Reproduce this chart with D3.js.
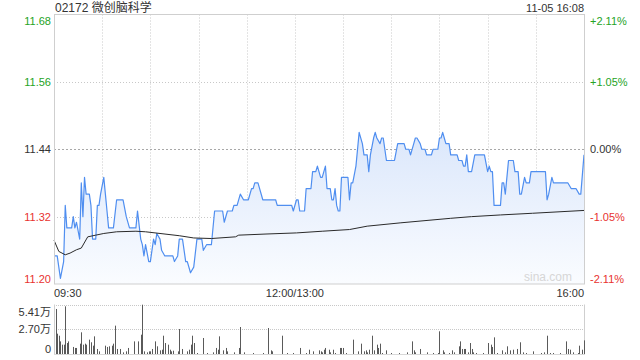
<!DOCTYPE html>
<html>
<head>
<meta charset="utf-8">
<script src="https://cdn.jsdelivr.net/npm/d3@7"></script>
<style>
  body { margin: 0; background: #fff; }
  svg { display: block; font-family: "Liberation Sans", Arial, "Noto Sans CJK SC", sans-serif; }
</style>
</head>
<body>
<div id="chart-area"></div>
<script>
// Data
let title = "02172 微创脑科学";
let stamp = "11-05 16:08";
let prevClose = 11.44;

// minutes since 09:30 (lunch removed) and price
let priceTimes = [0,2,4,6,7,8,11,12,13,14,16,17,18,19,20,22,23,24,26,27,28,29,31,32,33,34,37,39,43,45,47,51,52,54,55,56,57,59,60,62,63,64,66,67,69,72,74,75,77,78,80,82,83,85,87,89,92,93,95,98,100,105,106,108,111,112,114,116,118,121,123,124,125,127,130,138,139,148,149,151,152,153,156,157,160,161,163,164,166,167,169,170,172,173,174,175,176,177,178,179,183,184,185,186,188,189,190,192,193,195,196,197,199,200,201,203,204,205,207,212,214,218,219,221,222,224,225,226,228,229,231,232,235,236,239,240,241,242,243,244,246,247,251,252,254,255,256,257,258,260,262,268,270,271,272,273,274,278,279,280,281,283,286,287,289,290,291,293,294,296,297,306,307,308,310,311,320,322,325,327,328,330];
let prices = [11.25,11.25,11.21,11.24,11.34,11.30,11.30,11.32,11.30,11.31,11.28,11.38,11.32,11.39,11.36,11.36,11.34,11.28,11.28,11.34,11.34,11.36,11.39,11.36,11.33,11.30,11.30,11.35,11.35,11.32,11.30,11.30,11.33,11.28,11.27,11.25,11.27,11.24,11.24,11.28,11.27,11.29,11.28,11.26,11.25,11.25,11.25,11.24,11.25,11.28,11.28,11.24,11.24,11.22,11.23,11.28,11.28,11.26,11.27,11.27,11.33,11.33,11.31,11.33,11.33,11.34,11.34,11.36,11.35,11.35,11.37,11.37,11.38,11.38,11.35,11.35,11.34,11.34,11.33,11.35,11.35,11.33,11.33,11.37,11.37,11.40,11.40,11.41,11.39,11.39,11.41,11.37,11.37,11.35,11.35,11.37,11.34,11.33,11.33,11.39,11.39,11.35,11.38,11.38,11.41,11.44,11.47,11.45,11.43,11.43,11.40,11.43,11.46,11.47,11.46,11.45,11.46,11.46,11.42,11.42,11.45,11.45,11.44,11.44,11.43,11.45,11.46,11.46,11.45,11.44,11.44,11.43,11.43,11.44,11.44,11.46,11.46,11.47,11.46,11.45,11.45,11.43,11.43,11.42,11.42,11.41,11.41,11.43,11.40,11.40,11.43,11.43,11.40,11.41,11.40,11.40,11.34,11.34,11.38,11.38,11.36,11.42,11.42,11.40,11.40,11.36,11.36,11.39,11.38,11.38,11.40,11.40,11.35,11.36,11.39,11.38,11.38,11.37,11.37,11.36,11.36,11.43];

// average price line
let avgTimes = [0,3,7,10,14,17,21,26,31,39,51,57,66,78,87,98,113,115,132,151,167,184,195,216,247,260,278,298,330];
let avgPrices = [11.278,11.258,11.252,11.255,11.261,11.264,11.284,11.287,11.290,11.293,11.294,11.293,11.290,11.286,11.282,11.281,11.284,11.287,11.289,11.291,11.294,11.297,11.303,11.309,11.317,11.320,11.323,11.326,11.331];

// volume (万 shares)
let volTimes = [1,2,3,4,5,6,7,8,9,12,13,14,16,17,18,19,20,22,23,24,25,27,28,32,33,34,36,37,38,39,41,43,45,46,50,52,54,55,56,58,59,60,61,63,64,66,67,68,69,71,72,73,74,77,78,80,83,84,85,86,87,89,93,95,99,101,102,103,105,107,108,112,115,116,118,124,130,133,135,136,142,145,149,153,157,159,161,165,166,167,168,169,171,172,174,175,178,179,180,182,186,189,191,193,194,195,196,198,199,201,202,203,204,207,210,215,220,223,224,225,228,232,236,239,240,242,243,246,248,249,252,253,254,255,256,258,259,260,261,263,267,270,272,273,274,276,279,281,282,284,286,288,290,292,294,298,303,305,307,309,311,315,319,320,321,323,326,327,329,330];
let volumes = [4.92,2.22,2.00,1.38,1.02,1.02,5.21,1.20,1.38,0.77,0.66,0.66,1.13,2.37,1.02,1.13,1.02,1.57,1.28,0.91,1.93,0.55,0.29,0.91,0.77,0.84,0.91,1.13,3.10,0.55,0.55,0.18,0.29,0.66,1.38,1.38,2.11,5.39,0.29,0.18,0.29,0.29,0.55,1.38,0.84,0.40,0.47,2.00,1.20,1.02,0.47,0.29,0.36,0.29,2.73,0.55,0.29,0.47,1.02,2.00,1.20,0.11,1.75,0.11,0.18,0.66,0.47,1.93,0.40,0.66,0.29,0.18,0.66,2.95,0.18,0.11,0.11,2.84,0.40,0.29,2.00,0.11,0.11,0.66,0.11,0.47,0.29,0.40,0.29,0.18,0.47,0.66,0.47,0.18,0.47,0.11,0.66,0.66,0.66,0.11,1.57,0.29,1.13,0.29,0.40,0.18,0.47,2.00,0.40,1.02,0.66,1.13,0.11,0.40,0.11,0.11,0.18,1.38,0.40,0.18,0.55,0.18,0.11,0.11,2.48,0.40,0.18,0.11,0.40,0.18,0.84,1.38,0.55,0.55,0.55,0.18,1.20,0.55,0.18,0.11,0.11,1.20,1.02,0.77,1.82,0.11,0.40,0.18,0.84,0.40,0.47,0.55,1.28,0.18,0.11,0.29,0.11,0.18,2.00,0.11,0.11,0.11,1.38,0.55,0.47,0.18,0.11,0.91,0.47,1.49];

// axis labels
let priceTicks = [11.20, 11.32, 11.44, 11.56, 11.68];
let pctLabels = ["-2.11%", "-1.05%", "0.00%", "+1.05%", "+2.11%"];
let timeTicks = [0, 150, 330];
let timeLabels = ["09:30", "12:00/13:00", "16:00"];
let volTicks = [0, 2.70, 5.41];
let volLabels = ["0", "2.70万", "5.41万"];

const green = "#25a325", red = "#e8322f", dark = "#333";

let svg = d3.select("#chart-area")
  .append("svg")
  .attr("width", 640)
  .attr("height", 360);

// Scales
let x = d3.scaleLinear().domain([0, 330]).range([54, 584]);
let y = d3.scaleLinear().domain([11.20, 11.68]).range([284, 14.5]);
let yv = d3.scaleLinear().domain([0, 5.41]).range([354, 304.5]);

let tickColor = v => v > prevClose ? green : v < prevClose ? red : dark;
// first / last label is pushed inside the panel
let edgeShift = (i, n) => i == 0 ? -5 : i == n - 1 ? 6 : 0;

// Gradient for area
let defs = svg.append("defs");
let grad = defs.append("linearGradient")
  .attr("id", "fill")
  .attr("gradientUnits", "userSpaceOnUse")
  .attr("x1", 0).attr("x2", 0)
  .attr("y1", y(11.47)).attr("y2", y(11.20));
grad.append("stop").attr("offset", 0).attr("stop-color", "#dbe7fb");
grad.append("stop").attr("offset", 1).attr("stop-color", "#fafcff");

// Grid lines
let vGrid = d3.range(30, 330, 30);
svg.append("g")
  .selectAll("line")
  .data(vGrid)
  .join("line")
  .attr("x1", d => Math.round(x(d)) + 0.5)
  .attr("x2", d => Math.round(x(d)) + 0.5)
  .attr("y1", y(11.68))
  .attr("y2", y(11.20))
  .attr("stroke", "#c8c8c8")
  .attr("stroke-dasharray", "1,2");

svg.append("g")
  .selectAll("line")
  .data(priceTicks.filter(d => d > 11.20 && d < 11.68))
  .join("line")
  .attr("x1", x(0))
  .attr("x2", x(330))
  .attr("y1", d => Math.round(y(d)) + 0.5)
  .attr("y2", d => Math.round(y(d)) + 0.5)
  .attr("stroke", d => d == prevClose ? "#a8a8a8" : "#c8c8c8")
  .attr("stroke-dasharray", d => d == prevClose ? "2,2" : "1,2");

// Area + lines
let pts = priceTimes.map((t, i) => [t, prices[i]]);
svg.append("path")
  .datum(pts)
  .attr("fill", "url(#fill)")
  .attr("d", d3.area().x(d => x(d[0])).y0(y(11.20)).y1(d => y(d[1])));

svg.append("text")
  .attr("x", 572)
  .attr("y", 281)
  .attr("text-anchor", "end")
  .attr("fill", "#d6d6d6")
  .style("font-size", "12px")
  .text("sina.com");

svg.append("path")
  .datum(pts)
  .attr("fill", "none")
  .attr("stroke", "#4f8ef0")
  .attr("stroke-width", 1.2)
  .attr("stroke-linejoin", "round")
  .attr("d", d3.line().x(d => x(d[0])).y(d => y(d[1])));

svg.append("path")
  .datum(avgTimes.map((t, i) => [t, avgPrices[i]]))
  .attr("fill", "none")
  .attr("stroke", "#2a2a2a")
  .attr("stroke-width", 1)
  .attr("d", d3.line().x(d => x(d[0])).y(d => y(d[1])));

// Frame
svg.append("rect")
  .attr("x", 54.5).attr("y", 14.5)
  .attr("width", 530).attr("height", 269.5)
  .attr("fill", "none")
  .attr("stroke", "#cfcfcf");

// Price labels
svg.append("g")
  .selectAll("text")
  .data(priceTicks)
  .join("text")
  .attr("x", 51)
  .attr("y", (d, i) => y(d) + 4 + edgeShift(i, priceTicks.length))
  .attr("text-anchor", "end")
  .attr("fill", tickColor)
  .style("font-size", "11px")
  .text(d => d.toFixed(2));

svg.append("g")
  .selectAll("text")
  .data(priceTicks)
  .join("text")
  .attr("x", 590)
  .attr("y", (d, i) => y(d) + 4 + edgeShift(i, priceTicks.length))
  .attr("fill", tickColor)
  .style("font-size", "11px")
  .text((d, i) => pctLabels[i]);

// Time labels
svg.append("g")
  .selectAll("text")
  .data(timeTicks)
  .join("text")
  .attr("x", d => x(d))
  .attr("y", 297)
  .attr("text-anchor", (d, i) => i == 0 ? "start" : i == timeTicks.length - 1 ? "end" : "middle")
  .attr("fill", dark)
  .style("font-size", "11px")
  .text((d, i) => timeLabels[i]);

// Header
svg.append("text")
  .attr("x", 55).attr("y", 12)
  .attr("fill", dark)
  .style("font-size", "12px")
  .text(title);

svg.append("text")
  .attr("x", 584).attr("y", 12)
  .attr("text-anchor", "end")
  .attr("fill", dark)
  .style("font-size", "11px")
  .text(stamp);

// Volume panel
svg.append("g")
  .selectAll("line")
  .data(volTicks.slice(1))
  .join("line")
  .attr("x1", x(0)).attr("x2", x(330))
  .attr("y1", d => Math.round(yv(d)) + 0.5)
  .attr("y2", d => Math.round(yv(d)) + 0.5)
  .attr("stroke", "#c8c8c8")
  .attr("stroke-dasharray", "1,1");

svg.append("line")
  .attr("x1", 54.5).attr("x2", 54.5)
  .attr("y1", yv(5.41)).attr("y2", yv(0))
  .attr("stroke", "#cfcfcf");
svg.append("line")
  .attr("x1", 584.5).attr("x2", 584.5)
  .attr("y1", yv(5.41)).attr("y2", yv(0))
  .attr("stroke", "#cfcfcf");
svg.append("line")
  .attr("x1", 54).attr("x2", 585)
  .attr("y1", yv(0) + 0.5).attr("y2", yv(0) + 0.5)
  .attr("stroke", "#d8d8d8");

svg.append("g")
  .selectAll("rect")
  .data(volTimes.map((t, i) => [t, volumes[i]]))
  .join("rect")
  .attr("x", d => Math.round(x(d[0])))
  .attr("y", d => yv(d[1]))
  .attr("width", 1)
  .attr("height", d => yv(0) - yv(d[1]))
  .attr("fill", "#5a5a5a");

svg.append("g")
  .selectAll("text")
  .data(volTicks)
  .join("text")
  .attr("x", 51)
  .attr("y", (d, i) => yv(d) + 4 + edgeShift(i, volTicks.length) * (i == 0 ? 1 : 1.2))
  .attr("text-anchor", "end")
  .attr("fill", dark)
  .style("font-size", "11px")
  .text((d, i) => volLabels[i]);
</script>
</body>
</html>
